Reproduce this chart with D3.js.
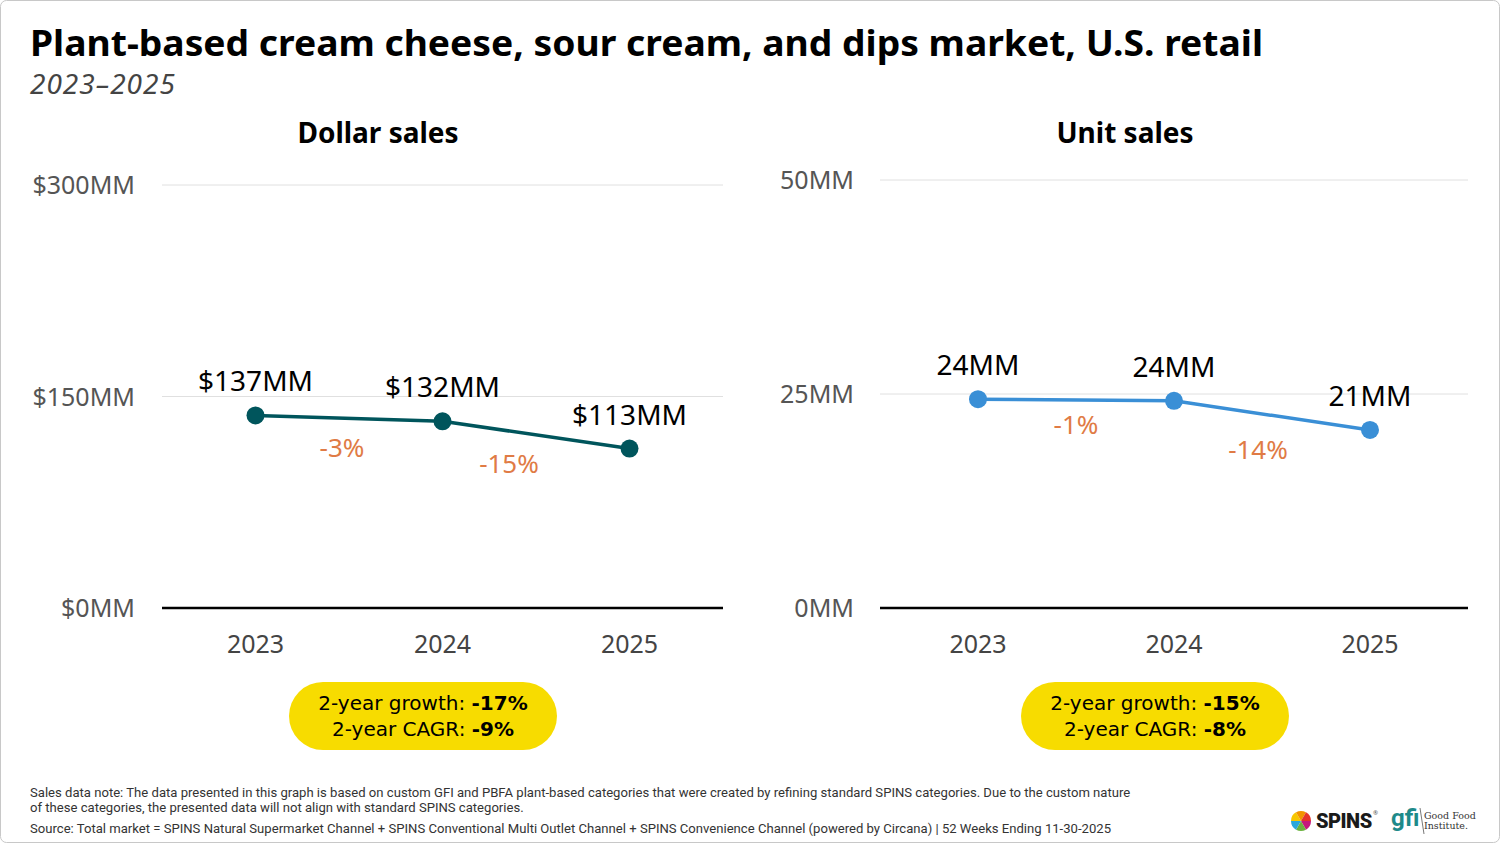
<!DOCTYPE html>
<html>
<head>
<meta charset="utf-8">
<script src="https://cdn.jsdelivr.net/npm/d3@7"></script>
<style>
  html, body { margin: 0; padding: 0; background: #fff; }
  svg { display: block; font-family: "Noto Sans", Roboto, sans-serif; }
</style>
</head>
<body>
<svg id="chart" width="1500" height="843"></svg>
<script>
// data
const years = ['2023', '2024', '2025'];
const dollarSales = [136.6, 132.4, 113.1];
const dollarLabels = ['$137MM', '$132MM', '$113MM'];
const dollarChanges = ['-3%', '-15%'];
const dollarTicks = [0, 150, 300];
const unitSales = [24.4, 24.2, 20.8];
const unitLabels = ['24MM', '24MM', '21MM'];
const unitChanges = ['-1%', '-14%'];
const unitTicks = [0, 25, 50];
const dollarSummary = ['-17%', '-9%'];
const unitSummary = ['-15%', '-8%'];

const svg = d3.select('#chart');

// frame
svg.append('rect')
  .attr('x', 0.5).attr('y', 0.5).attr('width', 1499).attr('height', 842)
  .attr('rx', 6).attr('fill', '#fff').attr('stroke', '#c8c8c8');

// title
svg.append('text')
  .attr('x', 30).attr('y', 56)
  .attr('font-size', 36).attr('font-weight', 700).attr('fill', '#000')
  .attr('textLength', 1233).attr('lengthAdjust', 'spacingAndGlyphs')
  .text('Plant-based cream cheese, sour cream, and dips market, U.S. retail');
svg.append('text')
  .attr('x', 30).attr('y', 94)
  .attr('font-size', 28).attr('font-style', 'italic').attr('fill', '#444')
  .attr('letter-spacing', 1)
  .text('2023–2025');

function panel(opt) {
  const x = d3.scalePoint().domain(years).range([opt.left, opt.right]).padding(0.5);
  const y = d3.scaleLinear().domain([0, opt.max]).range([608, opt.top]);
  const g = svg.append('g');

  // panel title
  g.append('text')
    .attr('x', opt.titleX).attr('y', 143).attr('text-anchor', 'middle')
    .attr('font-size', 28).attr('font-weight', 700).attr('fill', '#000')
    .text(opt.title);

  // grid + y axis labels
  g.selectAll('.grid').data(opt.ticks.filter(d => d > 0)).enter()
    .append('line')
    .attr('x1', opt.left).attr('x2', opt.right)
    .attr('y1', d => y(d)).attr('y2', d => y(d))
    .attr('stroke', '#e0e0e0').attr('stroke-width', 1);
  g.selectAll('.ytick').data(opt.ticks).enter()
    .append('text')
    .attr('x', opt.labelX).attr('y', d => y(d) + 9)
    .attr('text-anchor', 'end')
    .attr('font-size', 25).attr('fill', '#555')
    .text(opt.tickFmt);

  // baseline
  g.append('line')
    .attr('x1', opt.left).attr('x2', opt.right)
    .attr('y1', y(0)).attr('y2', y(0))
    .attr('stroke', '#000').attr('stroke-width', 2.5);

  // x labels
  g.selectAll('.xtick').data(years).enter()
    .append('text')
    .attr('x', d => x(d)).attr('y', 653).attr('text-anchor', 'middle')
    .attr('font-size', 25).attr('fill', '#444')
    .text(d => d);

  // line + dots
  const pts = years.map((yr, i) => [x(yr), y(opt.values[i])]);
  g.append('path')
    .attr('d', d3.line()(pts))
    .attr('fill', 'none').attr('stroke', opt.color).attr('stroke-width', 3.5);
  g.selectAll('.dot').data(pts).enter()
    .append('circle')
    .attr('cx', d => d[0]).attr('cy', d => d[1]).attr('r', 9)
    .attr('fill', opt.color);

  // value labels
  g.selectAll('.vlab').data(pts).enter()
    .append('text')
    .attr('x', d => d[0]).attr('y', d => d[1] - 24).attr('text-anchor', 'middle')
    .attr('font-size', 28).attr('fill', '#000')
    .text((d, i) => opt.labels[i]);

  // change labels
  opt.changes.forEach((c, i) => {
    const mx = (pts[i][0] + pts[i + 1][0]) / 2 + opt.changeDx[i];
    const my = (pts[i][1] + pts[i + 1][1]) / 2 + opt.changeDy[i];
    g.append('text')
      .attr('x', mx).attr('y', my).attr('text-anchor', 'middle')
      .attr('font-size', 26).attr('fill', '#e07b45')
      .text(c);
  });

  // summary pill
  const cx = opt.pillX;
  g.append('rect')
    .attr('x', cx - 134).attr('y', 682).attr('width', 268).attr('height', 68)
    .attr('rx', 34).attr('fill', '#f7dc00');
  const pillFont = '"DejaVu Sans", sans-serif';
  const t1 = g.append('text').attr('x', cx).attr('y', 710).attr('text-anchor', 'middle')
    .attr('font-family', pillFont).attr('font-size', 20).attr('fill', '#000');
  t1.append('tspan').text('2-year growth: ');
  t1.append('tspan').attr('font-weight', 700).text(opt.summary[0]);
  const t2 = g.append('text').attr('x', cx).attr('y', 736).attr('text-anchor', 'middle')
    .attr('font-family', pillFont).attr('font-size', 20).attr('fill', '#000');
  t2.append('tspan').text('2-year CAGR: ');
  t2.append('tspan').attr('font-weight', 700).text(opt.summary[1]);
}

panel({
  title: 'Dollar sales', titleX: 378,
  left: 162, right: 723, top: 185, max: 300, labelX: 135,
  ticks: dollarTicks, tickFmt: d => `$${d}MM`,
  values: dollarSales, labels: dollarLabels, changes: dollarChanges,
  changeDx: [-7, -27], changeDy: [39, 38],
  color: '#00555c', pillX: 423, summary: dollarSummary
});
panel({
  title: 'Unit sales', titleX: 1125,
  left: 880, right: 1468, top: 180, max: 50, labelX: 854,
  ticks: unitTicks, tickFmt: d => `${d}MM`,
  values: unitSales, labels: unitLabels, changes: unitChanges,
  changeDx: [0, -14], changeDy: [34, 44],
  color: '#3a8fd6', pillX: 1155, summary: unitSummary
});

// footnotes
const notes = [
  [797, 'Sales data note: The data presented in this graph is based on custom GFI and PBFA plant-based categories that were created by refining standard SPINS categories. Due to the custom nature'],
  [812, 'of these categories, the presented data will not align with standard SPINS categories.'],
  [833, 'Source: Total market = SPINS Natural Supermarket Channel + SPINS Conventional Multi Outlet Channel + SPINS Convenience Channel (powered by Circana) | 52 Weeks Ending 11-30-2025']
];
svg.selectAll('.note').data(notes).enter()
  .append('text')
  .attr('x', 30).attr('y', d => d[0])
  .attr('font-size', 13.1).attr('font-family', 'Roboto, sans-serif').attr('fill', '#333')
  .text(d => d[1]);

// logos (approximation)
const logo = svg.append('g');
const spinsColors = ['#f7c600', '#f29400', '#e5342a', '#c5197d', '#6cb33f', '#2aa7dd'];
spinsColors.forEach((c, i) => {
  const a = -Math.PI / 2 + i * Math.PI / 3;
  logo.append('path')
    .attr('transform', 'translate(1301,821)')
    .attr('d', d3.arc().innerRadius(0).outerRadius(10).startAngle(a).endAngle(a + Math.PI / 3)())
    .attr('fill', c);
});
logo.append('text').attr('x', 1316).attr('y', 828)
  .attr('font-size', 20).attr('font-weight', 900).attr('font-family', 'Roboto, sans-serif')
  .attr('fill', '#1a1a1a').attr('letter-spacing', -0.5).text('SPINS');
logo.append('text').attr('x', 1373).attr('y', 815)
  .attr('font-size', 6).attr('fill', '#555').text('®');
logo.append('text').attr('x', 1391).attr('y', 826)
  .attr('font-size', 24).attr('font-weight', 700).attr('font-family', 'Roboto, sans-serif')
  .attr('fill', '#1e8a8a').text('gfi');
logo.append('line').attr('x1', 1424).attr('y1', 834).attr('x2', 1420).attr('y2', 808)
  .attr('stroke', '#555').attr('stroke-width', 0.8);
logo.append('text').attr('x', 1424).attr('y', 819)
  .attr('font-size', 9.5).attr('font-family', '"DejaVu Serif", serif').attr('fill', '#333').text('Good Food');
logo.append('text').attr('x', 1424).attr('y', 829)
  .attr('font-size', 9.5).attr('font-family', '"DejaVu Serif", serif').attr('fill', '#333').text('Institute.');
</script>
</body>
</html>
